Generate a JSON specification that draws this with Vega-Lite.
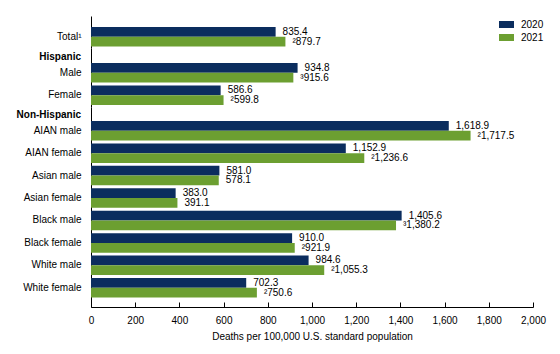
{
  "$schema": "https://vega.github.io/schema/vega-lite/v6.json",
  "padding": {"left": 16, "top": 16, "right": 5, "bottom": 5},
  "spacing": 0,
  "datasets": {
    "rates": [
      {"section": "Total", "group": "Total¹", "year": "2020", "rate": 835.4, "label": "835.4"},
      {"section": "Total", "group": "Total¹", "year": "2021", "rate": 879.7, "label": "²879.7"},
      {"section": "Hispanic", "group": "Male", "year": "2020", "rate": 934.8, "label": "934.8"},
      {"section": "Hispanic", "group": "Male", "year": "2021", "rate": 915.6, "label": "³915.6"},
      {"section": "Hispanic", "group": "Female", "year": "2020", "rate": 586.6, "label": "586.6"},
      {"section": "Hispanic", "group": "Female", "year": "2021", "rate": 599.8, "label": "²599.8"},
      {"section": "Non-Hispanic", "group": "AIAN male", "year": "2020", "rate": 1618.9, "label": "1,618.9"},
      {"section": "Non-Hispanic", "group": "AIAN male", "year": "2021", "rate": 1717.5, "label": "²1,717.5"},
      {"section": "Non-Hispanic", "group": "AIAN female", "year": "2020", "rate": 1152.9, "label": "1,152.9"},
      {"section": "Non-Hispanic", "group": "AIAN female", "year": "2021", "rate": 1236.6, "label": "²1,236.6"},
      {"section": "Non-Hispanic", "group": "Asian male", "year": "2020", "rate": 581.0, "label": "581.0"},
      {"section": "Non-Hispanic", "group": "Asian male", "year": "2021", "rate": 578.1, "label": "578.1"},
      {"section": "Non-Hispanic", "group": "Asian female", "year": "2020", "rate": 383.0, "label": "383.0"},
      {"section": "Non-Hispanic", "group": "Asian female", "year": "2021", "rate": 391.1, "label": "391.1"},
      {"section": "Non-Hispanic", "group": "Black male", "year": "2020", "rate": 1405.6, "label": "1,405.6"},
      {"section": "Non-Hispanic", "group": "Black male", "year": "2021", "rate": 1380.2, "label": "³1,380.2"},
      {"section": "Non-Hispanic", "group": "Black female", "year": "2020", "rate": 910.0, "label": "910.0"},
      {"section": "Non-Hispanic", "group": "Black female", "year": "2021", "rate": 921.9, "label": "²921.9"},
      {"section": "Non-Hispanic", "group": "White male", "year": "2020", "rate": 984.6, "label": "984.6"},
      {"section": "Non-Hispanic", "group": "White male", "year": "2021", "rate": 1055.3, "label": "²1,055.3"},
      {"section": "Non-Hispanic", "group": "White female", "year": "2020", "rate": 702.3, "label": "702.3"},
      {"section": "Non-Hispanic", "group": "White female", "year": "2021", "rate": 750.6, "label": "²750.6"}
    ],
    "headers": [
      {"section": "Hispanic", "group": "Male", "header": "Hispanic"},
      {"section": "Non-Hispanic", "group": "AIAN male", "header": "Non-Hispanic"}
    ]
  },
  "vconcat": [
    {
      "width": 442,
      "height": 32,
      "data": {"name": "rates"},
      "transform": [{"filter": "datum.section === 'Total'"}],
      "encoding": {
        "y": {"field": "group", "type": "nominal", "sort": null, "title": null,
              "scale": {"paddingInner": 0.13, "paddingOuter": 0.2783, "align": 0.881, "round": false},
              "axis": {"ticks": false, "labelPadding": 10}},
        "x": {"field": "rate", "type": "quantitative", "scale": {"domain": [0, 2000]}, "axis": null},
        "yOffset": {"field": "year", "type": "nominal", "scale": {"paddingInner": 0, "paddingOuter": 0}}
      },
      "layer": [
        {"mark": {"type": "bar"},
         "encoding": {"color": {"field": "year", "type": "nominal",
           "scale": {"domain": ["2020", "2021"], "range": ["#0b2d5e", "#6c9f31"]},
           "legend": {"orient": "none", "legendX": 408, "legendY": 1, "title": null,
                      "symbolType": "M-1,-0.467L1,-0.467L1,0.467L-1,0.467Z", "symbolSize": 225,
                      "symbolStrokeWidth": 0, "labelFontSize": 10, "labelOffset": 7, "rowPadding": 0,
                      "labelColor": "#000", "padding": 0}}}},
        {"mark": {"type": "text", "align": "left", "baseline": "middle", "dx": 7, "fontSize": 10, "color": "#000"},
         "encoding": {"text": {"field": "label"}}}
      ]
    },
    {
      "width": 442,
      "height": 59,
      "encoding": {
        "y": {"field": "group", "type": "nominal", "sort": null, "title": null,
              "scale": {"paddingInner": 0.13, "paddingOuter": 0.38, "align": 0.879, "round": false},
              "axis": {"ticks": false, "labelPadding": 10}}
      },
      "layer": [
        {"data": {"name": "rates"},
         "transform": [{"filter": "datum.section === 'Hispanic'"}],
         "mark": {"type": "bar"},
         "encoding": {
           "x": {"field": "rate", "type": "quantitative", "scale": {"domain": [0, 2000]}, "axis": null},
           "yOffset": {"field": "year", "type": "nominal", "scale": {"paddingInner": 0, "paddingOuter": 0}},
           "color": {"field": "year", "type": "nominal",
             "scale": {"domain": ["2020", "2021"], "range": ["#0b2d5e", "#6c9f31"]},
             "legend": {"orient": "none", "legendX": 408, "legendY": 1, "title": null,
                      "symbolType": "M-1,-0.467L1,-0.467L1,0.467L-1,0.467Z", "symbolSize": 225,
                      "symbolStrokeWidth": 0, "labelFontSize": 10, "labelOffset": 7, "rowPadding": 0,
                      "labelColor": "#000", "padding": 0}}}},
        {"data": {"name": "rates"},
         "transform": [{"filter": "datum.section === 'Hispanic'"}],
         "mark": {"type": "text", "align": "left", "baseline": "middle", "dx": 7, "fontSize": 10, "color": "#000"},
         "encoding": {
           "x": {"field": "rate", "type": "quantitative", "scale": {"domain": [0, 2000]}, "axis": null},
           "yOffset": {"field": "year", "type": "nominal", "scale": {"paddingInner": 0, "paddingOuter": 0}},
           "text": {"field": "label"}}},
        {"data": {"name": "headers"},
         "transform": [{"filter": "datum.section === 'Hispanic'"}],
         "mark": {"type": "text", "align": "right", "baseline": "middle", "dx": -10, "dy": -16, "fontSize": 10, "fontWeight": "bold", "color": "#000"},
         "encoding": {
           "x": {"datum": 0, "type": "quantitative", "scale": {"domain": [0, 2000]}, "axis": null},
           "text": {"field": "header"}}}
      ]
    },
    {
      "width": 442,
      "height": 200,
      "encoding": {
        "y": {"field": "group", "type": "nominal", "sort": null, "title": null,
              "scale": {"paddingInner": 0.13, "paddingOuter": 0.523, "align": 0.596, "round": false},
              "axis": {"ticks": false, "labelPadding": 10}}
      },
      "layer": [
        {"data": {"name": "rates"},
         "transform": [{"filter": "datum.section === 'Non-Hispanic'"}],
         "mark": {"type": "bar"},
         "encoding": {
           "x": {"field": "rate", "type": "quantitative", "scale": {"domain": [0, 2000]},
                 "axis": {"title": "Deaths per 100,000 U.S. standard population", "format": ",d", "values": [0, 200, 400, 600, 800, 1000, 1200, 1400, 1600, 1800, 2000],
                          "tickSize": -5, "labelPadding": 13, "titlePadding": 6, "labelFlush": false, "grid": false}},
           "yOffset": {"field": "year", "type": "nominal", "scale": {"paddingInner": 0, "paddingOuter": 0}},
           "color": {"field": "year", "type": "nominal",
             "scale": {"domain": ["2020", "2021"], "range": ["#0b2d5e", "#6c9f31"]},
             "legend": {"orient": "none", "legendX": 408, "legendY": 1, "title": null,
                      "symbolType": "M-1,-0.467L1,-0.467L1,0.467L-1,0.467Z", "symbolSize": 225,
                      "symbolStrokeWidth": 0, "labelFontSize": 10, "labelOffset": 7, "rowPadding": 0,
                      "labelColor": "#000", "padding": 0}}}},
        {"data": {"name": "rates"},
         "transform": [{"filter": "datum.section === 'Non-Hispanic'"}],
         "mark": {"type": "text", "align": "left", "baseline": "middle", "dx": 7, "fontSize": 10, "color": "#000"},
         "encoding": {
           "x": {"field": "rate", "type": "quantitative", "scale": {"domain": [0, 2000]}},
           "yOffset": {"field": "year", "type": "nominal", "scale": {"paddingInner": 0, "paddingOuter": 0}},
           "text": {"field": "label"}}},
        {"data": {"name": "headers"},
         "transform": [{"filter": "datum.section === 'Non-Hispanic'"}],
         "mark": {"type": "text", "align": "right", "baseline": "middle", "dx": -10, "dy": -16, "fontSize": 10, "fontWeight": "bold", "color": "#000"},
         "encoding": {
           "x": {"datum": 0, "type": "quantitative", "scale": {"domain": [0, 2000]}},
           "text": {"field": "header"}}}
      ]
    }
  ],
  "resolve": {"scale": {"y": "independent", "x": "independent", "color": "shared"}, "legend": {"color": "shared"}},
  "config": {
    "font": "Liberation Sans",
    "view": {"stroke": null},
    "axis": {"domainColor": "#000", "tickColor": "#000", "labelColor": "#000", "titleColor": "#000",
             "labelFontSize": 10, "titleFontSize": 10, "titleFontWeight": "normal", "grid": false},
    "legend": {"labelFont": "Liberation Sans"}
  }
}
